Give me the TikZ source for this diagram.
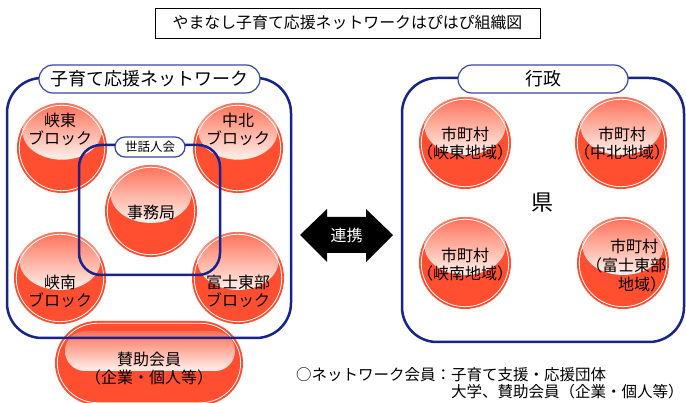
\documentclass[tikz,border=0pt]{standalone}
\usepackage{fontspec}
\setmainfont{Noto Sans CJK JP}
\definecolor{ballred}{RGB}{255,78,48}
\definecolor{hltop}{RGB}{255,112,88}
\definecolor{hlbot}{RGB}{255,242,236}
\definecolor{navy}{RGB}{24,36,140}
\definecolor{pillblue}{RGB}{56,70,168}
\newcommand{\gball}[4]{%
  \fill[ballred] (#2,#3) circle (#4);
  \begin{scope}
    \clip (#2,#3) circle (#4);
    \shade[top color=hltop, bottom color=hlbot] (#2,{#3-0.37*#4}) ellipse ({0.88*#4} and {0.63*#4});
  \end{scope}
  \draw[white, line width=0.8] (#2,#3) circle ({#4-2.3});
  \node[circle, minimum size={2*#4}, inner sep=0] (#1) at (#2,#3) {};
}
\tikzset{
  balltext/.style={align=center, inner sep=0, font=\fontsize{16}{18}\selectfont},
  bluebox/.style={draw=navy, line width=2.5},
  labelpill/.style={draw=pillblue, line width=1.2, fill=white, inner sep=0},
}
\begin{document}
\begin{tikzpicture}[x=1pt,y=-1pt]
\useasboundingbox (0,0) rectangle (686,403);
\fill[white] (0,0) rectangle (686,403);
% title
\node[draw=black, line width=0.8, minimum width=385, minimum height=30, inner sep=0, font=\fontsize{15.9}{18}\selectfont] (title) at (347.5,23) {やまなし子育て応援ネットワークはぴはぴ組織図};
% left balls
\gball{kyoto}{62}{148}{45}
\gball{chuhoku}{238}{148}{45}
\gball{jimu}{151}{211}{46}
\gball{kyonan}{60}{278}{46}
\gball{fuji}{238}{278}{46}
% supporting members pill
\fill[ballred, rounded corners=42] (55,321) rectangle (243,405);
\begin{scope}
  \clip[rounded corners=42] (55,321) rectangle (243,405);
  \shade[top color=hltop, bottom color=hlbot, rounded corners=20] (65,331) rectangle (235,371);
\end{scope}
\draw[white, line width=0.8, rounded corners=40] (57.3,323.3) rectangle (240.7,402.7);
\node[inner sep=0, minimum width=188, minimum height=84] (sanjo) at (149,363) {};
% right balls
\gball{skyoto}{465}{143}{46}
\gball{schuhoku}{621}{143}{46}
\gball{skyonan}{465}{263}{46}
\gball{sfuji}{623}{263}{46}
% blue boxes
\draw[bluebox, rounded corners=35] (7,78) rectangle (291,338);
\draw[bluebox, rounded corners=35] (402,78) rectangle (684,342);
\draw[bluebox, rounded corners=22] (79,145) rectangle (220,275);
% label pills
\node[labelpill, rounded corners=14, minimum width=221, minimum height=28, font=\fontsize{18}{20}\selectfont] (lnet) at (149.5,79) {子育て応援ネットワーク};
\node[labelpill, rounded corners=14, minimum width=170, minimum height=28, font=\fontsize{18}{20}\selectfont] (lgyo) at (543,79) {行政};
\node[labelpill, rounded corners=10, minimum width=70, minimum height=20, font=\fontsize{12.5}{14}\selectfont] (lsewa) at (150,147) {世話人会};
% ball texts
\node[balltext] (tkyoto) at (60,129) {峡東\\ブロック};
\node[balltext] (tchuhoku) at (238,129) {中北\\ブロック};
\node[balltext] (tjimu) at (151,212) {事務局};
\node[balltext] (tkyonan) at (60,291) {峡南\\ブロック};
\node[balltext] (tfuji) at (238,291) {富士東部\\ブロック};
\node[balltext] (tsanjo) at (149,369) {賛助会員\\（企業・個人等）};
\node[balltext] (tskyoto) at (465,144) {市町村\\（峡東地域）};
\node[balltext] (tschuhoku) at (622,144) {市町村\\（中北地域）};
\node[balltext] (tskyonan) at (465,265) {市町村\\（峡南地域）};
\node[balltext, align=right, font=\fontsize{16}{19}\selectfont] (tsfuji) at (626,266) {市町村\hspace*{8pt}\\（富士東部\\地域）};
\node[inner sep=0, font=\fontsize{22}{24}\selectfont] (ken) at (542,203) {県};
% link arrow
\fill[black] (300,235) -- (327,209) -- (327,217) -- (366,217) -- (366,209) -- (393,235) -- (366,262) -- (366,253) -- (327,253) -- (327,262) -- cycle;
\node[inner sep=0, text=white, font=\fontsize{16}{18}\selectfont] (link) at (346.5,235) {連携};
% note
\node[anchor=west, align=left, inner sep=0, font=\fontsize{15.5}{17.5}\selectfont] (note) at (296,383) {○ネットワーク会員：子育て支援・応援団体\\\hphantom{○ネットワーク会員：}大学、賛助会員（企業・個人等）};
\end{tikzpicture}
\end{document}
